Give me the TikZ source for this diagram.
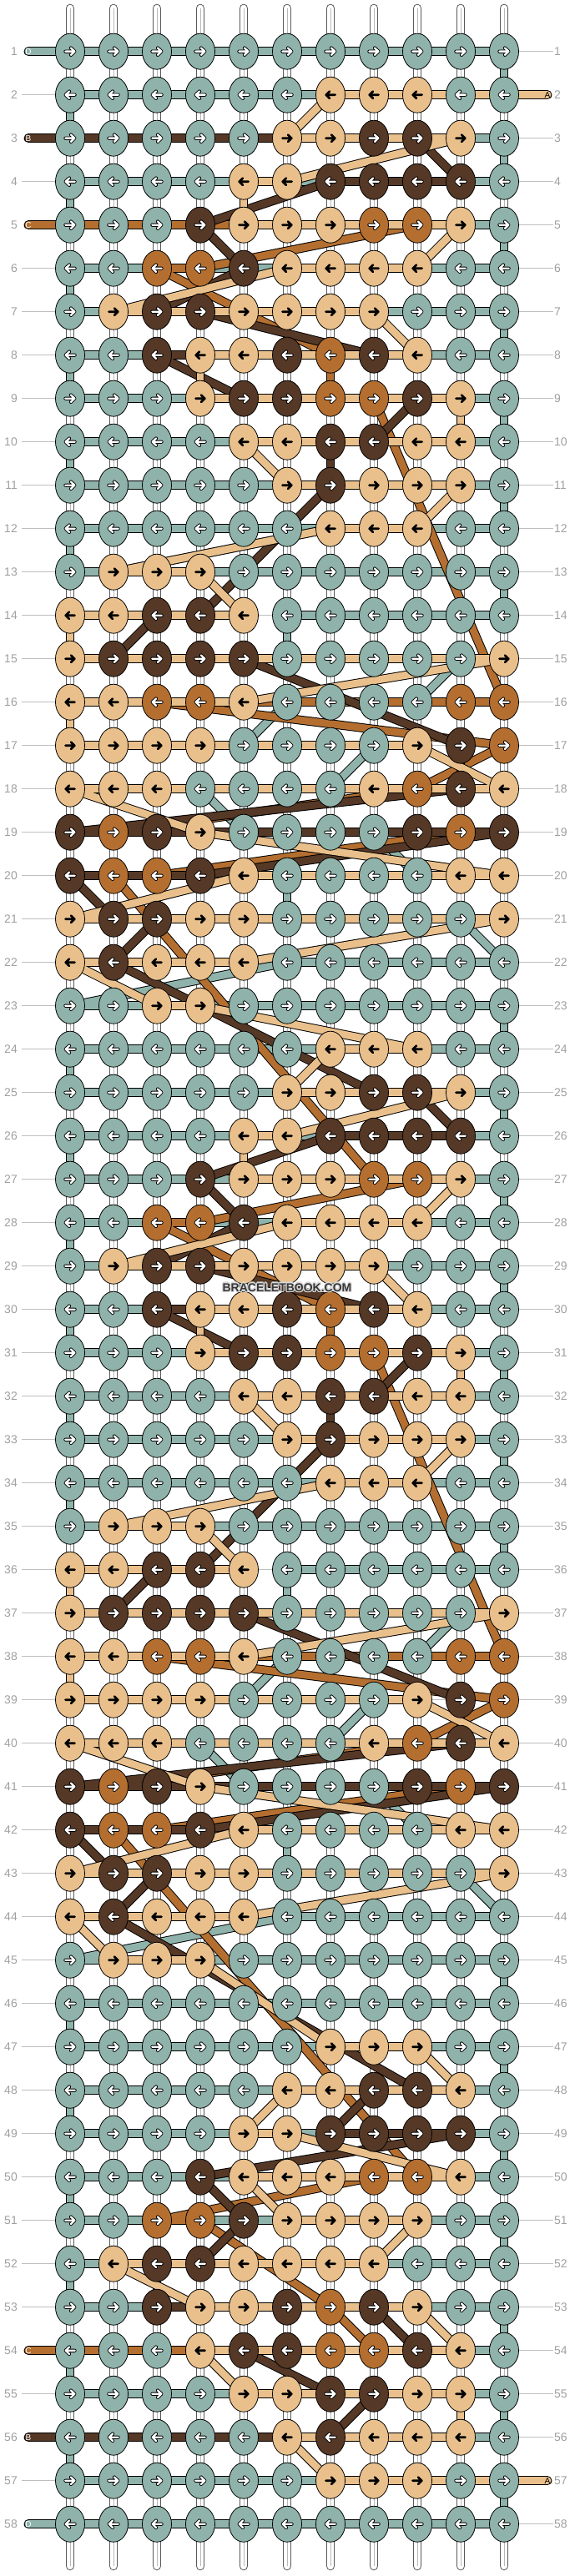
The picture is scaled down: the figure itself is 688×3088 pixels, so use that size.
\documentclass[tikz,border=0pt]{standalone}
\usepackage{fontspec}
\setmainfont{Liberation Sans}
\usetikzlibrary{shapes.geometric}
\definecolor{colA}{HTML}{E9C08C}
\definecolor{colB}{HTML}{553826}
\definecolor{colC}{HTML}{B46F30}
\definecolor{colD}{HTML}{8FB3AB}
\definecolor{lab}{HTML}{A0A0A0}
\newcount\lettercnt
\def\currow{}
\def\setrow#1#2{\gdef\currow{#1}\global\lettercnt=0 \parseletters#2\relax}
\def\parseletters#1{\ifx#1\relax\else\global\advance\lettercnt by 1 \expandafter\xdef\csname g-\currow-\the\lettercnt\endcsname{#1}\expandafter\parseletters\fi}
\setrow{1}{DDDDDDDDDDD}
\setrow{2}{DDDDDDAAADD}
\setrow{3}{DDDDDAABBAD}
\setrow{4}{DDDDAABBBBD}
\setrow{5}{DDDBAAACCAD}
\setrow{6}{DDCCBAAAADD}
\setrow{7}{DABBAAAADDD}
\setrow{8}{DDBAABCBADD}
\setrow{9}{DDDABBCCBAD}
\setrow{10}{DDDDAABBAAD}
\setrow{11}{DDDDDABAAAD}
\setrow{12}{DDDDDDAAADD}
\setrow{13}{DAAADDDDDDD}
\setrow{14}{AABBADDDDDD}
\setrow{15}{ABBBBDDDDDA}
\setrow{16}{AACCADDDDCC}
\setrow{17}{AAAADDDDABC}
\setrow{18}{AAADDDDACBA}
\setrow{19}{BCBADDDDBCB}
\setrow{20}{BCCBADDDDAA}
\setrow{21}{ABBAADDDDDA}
\setrow{22}{ABAAADDDDDD}
\setrow{23}{DDAADDDDDDD}
\setrow{24}{DDDDDDAAADD}
\setrow{25}{DDDDDAABBAD}
\setrow{26}{DDDDAABBBBD}
\setrow{27}{DDDBAAACCAD}
\setrow{28}{DDCCBAAAADD}
\setrow{29}{DABBAAAADDD}
\setrow{30}{DDBAABCBADD}
\setrow{31}{DDDABBCCBAD}
\setrow{32}{DDDDAABBAAD}
\setrow{33}{DDDDDABAAAD}
\setrow{34}{DDDDDDAAADD}
\setrow{35}{DAAADDDDDDD}
\setrow{36}{AABBADDDDDD}
\setrow{37}{ABBBBDDDDDA}
\setrow{38}{AACCADDDDCC}
\setrow{39}{AAAADDDDABC}
\setrow{40}{AAADDDDACBA}
\setrow{41}{BCBADDDDBCB}
\setrow{42}{BCCBADDDDAA}
\setrow{43}{ABBAADDDDDA}
\setrow{44}{ABAAADDDDDD}
\setrow{45}{DAAADDDDDDD}
\setrow{46}{DDDDDDDDDDD}
\setrow{47}{DDDDDDAAADD}
\setrow{48}{DDDDDAABBAD}
\setrow{49}{DDDDAABBBBD}
\setrow{50}{DDDBAAACCAD}
\setrow{51}{DDCCBAAAADD}
\setrow{52}{DABBAAAADDD}
\setrow{53}{DDBAABCBADD}
\setrow{54}{DDDABBCCBAD}
\setrow{55}{DDDDAABBAAD}
\setrow{56}{DDDDDABAAAD}
\setrow{57}{DDDDDDAAADD}
\setrow{58}{DDDDDDDDDDD}
\expandafter\def\csname lm1\endcsname{}
\expandafter\def\csname lm3\endcsname{}
\expandafter\def\csname lm5\endcsname{}
\expandafter\def\csname lm54\endcsname{}
\expandafter\def\csname lm56\endcsname{}
\expandafter\def\csname lm58\endcsname{}
\expandafter\def\csname rm2\endcsname{}
\expandafter\def\csname rm57\endcsname{}
\pgfdeclarelayer{bg}
\pgfdeclarelayer{warp}
\pgfdeclarelayer{strings}
\pgfsetlayers{bg,warp,strings,main}
\tikzset{
  knot/.style={ellipse, draw=black, line width=0.8pt, minimum width=35pt, minimum height=43pt, inner sep=0pt},
  sout/.style={draw=black, line width=10.8pt, line cap=round},
  sA/.style={draw=colA, line width=8.8pt, line cap=round},
  sB/.style={draw=colB, line width=8.8pt, line cap=round},
  sC/.style={draw=colC, line width=8.8pt, line cap=round},
  sD/.style={draw=colD, line width=8.8pt, line cap=round},
  warpo/.style={draw=black!65, line width=10.6pt, line cap=round},
  warpw/.style={draw=white, line width=8.6pt, line cap=round},
  warpc/.style={draw=black!28, line width=0.8pt},
  arrowo/.style={draw=black, line width=4.2pt, line cap=round, line join=round},
  arroww/.style={draw=white, line width=2.4pt, line cap=round, line join=round},
  arrowk/.style={draw=black, line width=2.7pt, line cap=round, line join=round},
  lbl/.style={text=lab, font=\fontsize{14}{16}\selectfont, inner sep=0pt},
  sideline/.style={draw=black!25, line width=0.9pt},
  endletter/.style={font=\fontsize{10}{12}\selectfont, inner sep=0pt},
  wmark/.style={font=\bfseries\fontsize{14}{16}\selectfont, inner sep=0pt},
}
\newcommand\drawstring[2]{%
  \xdef\pr{s}\xdef\pc{#1}%
  \foreach \rr in {1,...,58}{%
    \ifodd\rr\relax\def\clist{1,...,11}\else\def\clist{11,10,...,1}\fi
    \foreach \cc in \clist {%
      \edef\here{\csname g-\rr-\cc\endcsname}%
      \if #1\here
        \draw[#2] (k-\pr-\pc) -- (k-\rr-\cc);
        \xdef\pr{\rr}\xdef\pc{\cc}%
      \fi}}%
  \draw[#2] (k-\pr-\pc) -- (k-e-#1);}
\begin{document}
\begin{tikzpicture}[x=1pt,y=1pt]
\useasboundingbox (0,0) rectangle (688,-3088);
\begin{pgfonlayer}{bg}
\fill[white] (0,0) rectangle (688,-3088);
\end{pgfonlayer}
% warps
\begin{pgfonlayer}{warp}
\foreach \cc in {1,...,11}{
  \pgfmathsetmacro\xx{84+52*(\cc-1)}
  \coordinate (wt\cc) at (\xx,-10);
  \coordinate (wb\cc) at (\xx,-3076);
  \draw[warpo] (wt\cc) -- (wb\cc);
  \draw[warpw] (wt\cc) -- (wb\cc);
  \draw[warpc] (wt\cc) -- (wb\cc);
}
\end{pgfonlayer}
% knots
\foreach \rr in {1,...,58}{
  \pgfmathsetmacro\yy{-61.7-52*(\rr-1)}
  \ifodd\rr\relax\def\dir{1}\else\def\dir{-1}\fi
  \node[lbl,anchor=east] (ll\rr) at (21,\yy) {\rr};
  \node[lbl,anchor=west] (rl\rr) at (664,\yy) {\rr};
  \foreach \cc in {1,...,11}{
    \pgfmathsetmacro\xx{84+52*(\cc-1)}
    \edef\here{\csname g-\rr-\cc\endcsname}
    \coordinate (k-\rr-\cc) at (\xx,\yy);
    \node[knot,fill=col\here] (n-\rr-\cc) at (\xx,\yy) {};
    \begin{scope}[shift={(\xx,\yy)},xscale=\dir]
      \if A\here
        \draw[arrowk] (-5.6,0) -- (5,0) (1,4.2) -- (5.3,0) -- (1,-4.2);
      \else
        \draw[arrowo] (-5.6,0) -- (5,0) (1,4.2) -- (5.3,0) -- (1,-4.2);
        \draw[arroww] (-5.6,0) -- (5,0) (1,4.2) -- (5.3,0) -- (1,-4.2);
      \fi
    \end{scope}
  }
}
% row guide lines
\begin{pgfonlayer}{warp}
\foreach \rr in {1,...,58}{
  \draw[sideline] (n-\rr-1.west) -- (n-\rr-11.east);
  \ifcsname lm\rr\endcsname\else \draw[sideline] ([xshift=5pt]ll\rr.east) -- (n-\rr-1.west);\fi
  \ifcsname rm\rr\endcsname\else \draw[sideline] (n-\rr-11.east) -- ([xshift=-1.5pt]rl\rr.west);\fi
}
\end{pgfonlayer}
% string ends
\coordinate (k-s-D) at (34,-61.7);
\coordinate (k-e-D) at (34,-3025.7);
\coordinate (k-s-A) at (656,-113.7);
\coordinate (k-e-A) at (656,-2973.7);
\coordinate (k-s-B) at (34,-165.7);
\coordinate (k-e-B) at (34,-2921.7);
\coordinate (k-s-C) at (34,-269.7);
\coordinate (k-e-C) at (34,-2817.7);
\begin{pgfonlayer}{strings}
\drawstring{D}{sout}\drawstring{D}{sD}
\drawstring{C}{sout}\drawstring{C}{sC}
\drawstring{B}{sout}\drawstring{B}{sB}
\drawstring{A}{sout}\drawstring{A}{sA}
\end{pgfonlayer}
% end letters
\node[endletter,text=white] (mD1) at (k-s-D) {D};
\node[endletter,text=white] (mD2) at (k-e-D) {D};
\node[endletter,text=black] (mA1) at (k-s-A) {A};
\node[endletter,text=black] (mA2) at (k-e-A) {A};
\node[endletter,text=white] (mB1) at (k-s-B) {B};
\node[endletter,text=white] (mB2) at (k-e-B) {B};
\node[endletter,text=white] (mC1) at (k-s-C) {C};
\node[endletter,text=white] (mC2) at (k-e-C) {C};
% watermark with light halo
\foreach \dx/\dy in {-1.2/0,1.2/0,0/1.2,0/-1.2,-0.9/0.9,0.9/0.9,-0.9/-0.9,0.9/-0.9}{
  \node[wmark, text=white!85!black] at (344+\dx,-1543.3+\dy) {BRACELETBOOK.COM};
}
\node[wmark, text=black!78] (wm) at (344,-1543.3) {BRACELETBOOK.COM};
\end{tikzpicture}
\end{document}
